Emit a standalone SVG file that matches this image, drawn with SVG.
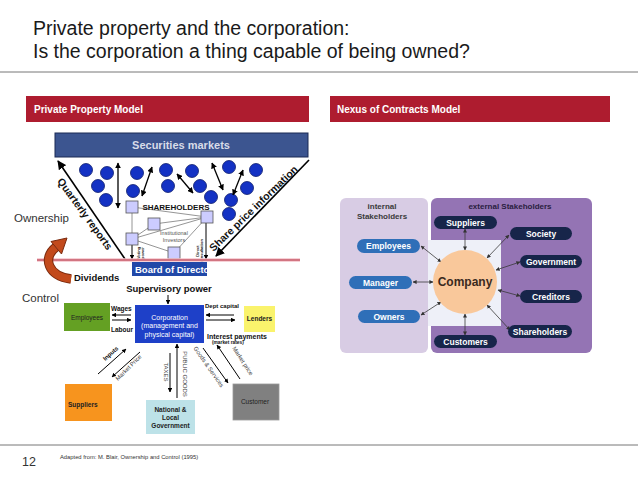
<svg xmlns="http://www.w3.org/2000/svg" width="638" height="479" viewBox="0 0 638 479">
<defs>
<marker id="a6" viewBox="0 0 10 10" refX="9" refY="5" markerWidth="6" markerHeight="6" markerUnits="userSpaceOnUse" orient="auto-start-reverse"><path d="M0,0L10,5L0,10z" fill="#000"/></marker>
<marker id="a9" viewBox="0 0 10 10" refX="9" refY="5" markerWidth="9" markerHeight="9" markerUnits="userSpaceOnUse" orient="auto-start-reverse"><path d="M0,0L10,5L0,10z" fill="#000"/></marker>
<marker id="a4" viewBox="0 0 10 10" refX="9" refY="5" markerWidth="4.5" markerHeight="4.5" markerUnits="userSpaceOnUse" orient="auto-start-reverse"><path d="M0,0L10,5L0,10z" fill="#000"/></marker>
<marker id="g4" viewBox="0 0 10 10" refX="9" refY="5" markerWidth="4" markerHeight="4" markerUnits="userSpaceOnUse" orient="auto-start-reverse"><path d="M0,0L10,5L0,10z" fill="#333"/></marker>
<clipPath id="bodClip"><rect x="132" y="262" width="75" height="14"/></clipPath>
</defs>
<style>
text{font-family:"Liberation Sans",Arial,sans-serif}
.title{font-size:19.5px;fill:#1a1a1a}
.bar{fill:#AE1C2F}
.barT{font-size:10px;font-weight:bold;fill:#fff}
.rule{stroke:#777;stroke-width:1}
.dot{fill:#1432C4;stroke:#0B1A6B;stroke-width:0.8}
.sq{fill:#CCCCFF;stroke:#555;stroke-width:0.8}
.gl{stroke:#7a7a7a;stroke-width:0.8;fill:none}
.ln{stroke:#000;stroke-width:1.3;fill:none}
.lnB{stroke:#000;stroke-width:1.6;fill:none}
.lnS{stroke:#000;stroke-width:1;fill:none}
.side{font-size:11.5px;fill:#333}
.bold{font-weight:bold;fill:#111}
.small{font-size:6.5px}
.lbl{font-size:6.5px;fill:#222}
.lblG{font-size:6px;fill:#444}
.pillI{fill:#2F6FB8}
.pillE{fill:#17254A}
.pillT{font-size:8.5px;font-weight:bold;fill:#fff;text-anchor:middle}
.rc{stroke:#3a3a3a;stroke-width:0.8;fill:none}
</style>

<!-- Header -->
<g id="header">
<text class="title" x="33" y="35">Private property and the corporation:</text>
<text class="title" x="33" y="58">Is the corporation a thing capable of being owned?</text>
<line class="rule" x1="0" y1="72" x2="638" y2="72"/>
<rect class="bar" x="26" y="96" width="283" height="26"/>
<text class="barT" x="34" y="113">Private Property Model</text>
<rect class="bar" x="330" y="96" width="280" height="26"/>
<text class="barT" x="337" y="113">Nexus of Contracts Model</text>
</g>

<!-- Left diagram: Private property model -->
<g id="securities-markets">
<rect x="55" y="133" width="253" height="24" fill="#3C5590" stroke="#1B2A55" stroke-width="1"/>
<text x="181" y="149" text-anchor="middle" font-size="11" font-weight="bold" fill="#D8DCE8">Securities markets</text>
</g>

<g id="shareholder-dots">
<circle class="dot" cx="86" cy="170" r="6.5"/>
<circle class="dot" cx="107" cy="173" r="6.5"/>
<circle class="dot" cx="98" cy="186" r="6.5"/>
<circle class="dot" cx="106" cy="200" r="6.5"/>
<circle class="dot" cx="137" cy="173" r="6.5"/>
<circle class="dot" cx="133" cy="191" r="6.5"/>
<circle class="dot" cx="166" cy="170" r="6.5"/>
<circle class="dot" cx="168" cy="186" r="6.5"/>
<circle class="dot" cx="192" cy="171" r="6.5"/>
<circle class="dot" cx="200" cy="186" r="6.5"/>
<circle class="dot" cx="211" cy="197" r="6.5"/>
<circle class="dot" cx="229" cy="167" r="6.5"/>
<circle class="dot" cx="256" cy="170" r="6.5"/>
<circle class="dot" cx="247" cy="188" r="6.5"/>
<circle class="dot" cx="231" cy="200" r="6.5"/>
<circle class="dot" cx="229" cy="214" r="6.5"/>
</g>

<g id="connectors">
<!-- trading double arrows -->
<line class="ln" x1="118" y1="163" x2="118" y2="208" marker-start="url(#a6)" marker-end="url(#a6)"/>
<line class="ln" x1="152" y1="167" x2="142" y2="196" marker-start="url(#a6)" marker-end="url(#a6)"/>
<line class="ln" x1="177" y1="174" x2="193" y2="193" marker-start="url(#a6)" marker-end="url(#a6)"/>
<line class="ln" x1="212" y1="163" x2="223" y2="190" marker-start="url(#a6)" marker-end="url(#a6)"/>
<line class="ln" x1="243" y1="170" x2="233" y2="195" marker-start="url(#a6)" marker-end="url(#a6)"/>
<!-- quarterly reports / share price -->
<line class="lnB" x1="125" y1="259" x2="58" y2="161" marker-end="url(#a9)"/>
<line class="lnB" x1="309" y1="160" x2="216" y2="256" marker-end="url(#a9)"/>
<!-- shareholder network -->
<line class="gl" x1="132" y1="207" x2="207" y2="217"/>
<line class="gl" x1="154" y1="224" x2="207" y2="217"/>
<line class="gl" x1="132" y1="239" x2="154" y2="224"/>
<line class="gl" x1="132" y1="239" x2="207" y2="217"/>
<line class="gl" x1="132" y1="239" x2="174" y2="253"/>
<line class="gl" x1="207" y1="217" x2="174" y2="253"/>
<line class="gl" x1="132" y1="207" x2="132" y2="239"/>
<line class="lnS" x1="132" y1="245" x2="132" y2="259" marker-end="url(#a4)"/>
<line class="lnS" x1="206" y1="223" x2="206" y2="259" marker-end="url(#a4)"/>
<!-- supervisory -->
<line class="lnS" x1="168" y1="295" x2="168" y2="304" marker-end="url(#a4)"/>
<!-- wages / labour -->
<line class="lnS" x1="131" y1="315" x2="112" y2="315" marker-end="url(#a4)"/>
<line class="lnS" x1="112" y1="320" x2="131" y2="320" marker-end="url(#a4)"/>
<!-- debt capital / interest -->
<line class="lnS" x1="234" y1="315" x2="206" y2="315" marker-end="url(#a4)"/>
<line class="lnS" x1="206" y1="320" x2="235" y2="320" marker-end="url(#a4)"/>
<!-- suppliers -->
<line class="lnS" x1="98" y1="374" x2="126" y2="349" marker-end="url(#a4)"/>
<line class="lnS" x1="140" y1="352" x2="112" y2="377" marker-end="url(#a4)"/>
<!-- government -->
<line class="lnS" x1="170" y1="353" x2="170" y2="392" marker-end="url(#a4)"/>
<line class="lnS" x1="177" y1="398" x2="177" y2="344" marker-end="url(#a4)"/>
<!-- customer -->
<line class="lnS" x1="203" y1="348" x2="228" y2="383" marker-end="url(#a4)"/>
<line class="lnS" x1="240" y1="379" x2="217" y2="345" marker-end="url(#a4)"/>
</g>

<g id="flow-labels">
<text transform="translate(82,216) rotate(54)" text-anchor="middle" font-size="10.5" class="bold">Quarterly reports</text>
<text transform="translate(256,211) rotate(-44)" text-anchor="middle" font-size="10.5" class="bold">Share price information</text>
<text transform="translate(140,253) rotate(-90)" text-anchor="middle" font-size="4" class="bold"><tspan x="0" dy="-0.5">Voting</tspan><tspan x="0" dy="4.2">power</tspan></text>
<text transform="translate(199,251) rotate(-90)" text-anchor="middle" font-size="4" class="bold"><tspan x="0" dy="-0.5">Direct</tspan><tspan x="0" dy="4.2">consultation</tspan></text>
<text x="111" y="311" font-size="6.5" class="bold">Wages</text>
<text x="111" y="332" font-size="6.5" class="bold">Labour</text>
<text x="205" y="308" font-size="6" class="bold">Dept capital</text>
<text x="207" y="339" font-size="7" class="bold">Interest payments</text>
<text x="212" y="344" font-size="4.8" class="bold">(market rates)</text>
<text transform="translate(112,355) rotate(-42)" text-anchor="middle" font-size="6" class="bold">Inputs</text>
<text transform="translate(130,369) rotate(-45)" text-anchor="middle" class="lblG">Market Price</text>
<text transform="translate(164,372) rotate(90)" text-anchor="middle" class="lblG">TAXES</text>
<text transform="translate(183,374) rotate(90)" text-anchor="middle" class="lblG">PUBLIC GOODS</text>
<text transform="translate(207,368) rotate(55)" text-anchor="middle" class="lblG">Goods &amp; Services</text>
<text transform="translate(241,362) rotate(57)" text-anchor="middle" class="lblG">Market price</text>
</g>

<g id="shareholders">
<rect class="sq" x="126" y="201" width="12" height="12"/>
<rect class="sq" x="148" y="218" width="12" height="12"/>
<rect class="sq" x="201" y="211" width="12" height="12"/>
<rect class="sq" x="126" y="233" width="12" height="12"/>
<rect class="sq" x="168" y="247" width="12" height="12"/>
<text x="176" y="210" text-anchor="middle" font-size="8" class="bold">SHAREHOLDERS</text>
<text x="174" y="235" text-anchor="middle" font-size="5.5" fill="#555">Institutional</text>
<text x="174" y="242" text-anchor="middle" font-size="5.5" fill="#555">Investors</text>
</g>

<g id="ownership-control">
<line x1="37" y1="260" x2="300" y2="260" stroke="#F4C2CA" stroke-width="3.5"/>
<line x1="37" y1="260" x2="300" y2="260" stroke="#B0283A" stroke-width="1.2"/>
<text class="side" x="14" y="222">Ownership</text>
<text class="side" x="22" y="302">Control</text>
<path d="M71,279 C48,276 42,258 56,247" fill="none" stroke="#7A2A0E" stroke-width="9.5"/>
<path d="M71,279 C48,276 42,258 56,247" fill="none" stroke="#C24A1C" stroke-width="7.5"/>
<path d="M67,238 L61.5,254 L51,241.5 Z" fill="#C24A1C" stroke="#7A2A0E" stroke-width="1" stroke-linejoin="round"/>
<text x="74" y="281" font-size="9.5" class="bold">Dividends</text>
</g>

<g id="board-of-director">
<rect x="132" y="262" width="75" height="14" fill="#2148A8"/>
<text x="135" y="273" font-size="9.5" font-weight="bold" fill="#fff" clip-path="url(#bodClip)">Board of Director</text>
<text x="169" y="292" text-anchor="middle" font-size="9.5" class="bold">Supervisory power</text>
</g>

<g id="corporation">
<rect x="135" y="305" width="69" height="38" fill="#1E40C8"/>
<text x="169.5" y="319.5" text-anchor="middle" font-size="7" fill="#fff">Corporation</text>
<text x="169.5" y="328" text-anchor="middle" font-size="7" fill="#fff">(management and</text>
<text x="169.5" y="336.5" text-anchor="middle" font-size="7" fill="#fff">physical capital)</text>
</g>

<g id="employees">
<rect x="64" y="303" width="46" height="28" fill="#64A023"/>
<text x="87" y="320" text-anchor="middle" class="lbl">Employees</text>
</g>

<g id="lenders">
<rect x="244" y="306" width="31" height="26" fill="#FAF36C"/>
<text x="259.5" y="321" text-anchor="middle" class="lbl" font-weight="bold">Lenders</text>
</g>

<g id="suppliers">
<rect x="65" y="384" width="47" height="37" fill="#F7941E"/>
<text x="68" y="407" class="lbl" font-weight="bold">Suppliers</text>
</g>

<g id="government">
<rect x="146" y="400" width="49" height="34" fill="#BDE2E8"/>
<text x="170.5" y="412" text-anchor="middle" class="lbl" font-weight="bold">National &amp;</text>
<text x="170.5" y="420" text-anchor="middle" class="lbl" font-weight="bold">Local</text>
<text x="170.5" y="428" text-anchor="middle" class="lbl" font-weight="bold">Government</text>
</g>

<g id="customer">
<rect x="233" y="384" width="46" height="36" fill="#808080" stroke="#9a9a9a" stroke-width="0.8"/>
<text x="255" y="404" text-anchor="middle" class="lbl">Customer</text>
</g>

<!-- Right diagram: Nexus of contracts -->
<g id="nexus-panels">
<rect x="340" y="198" width="88" height="155" rx="6" fill="#D8CCE4"/>
<rect x="431" y="198" width="161" height="155" rx="6" fill="#9474B4"/>
<rect x="428" y="240" width="73" height="86" fill="#EEF0F8"/>
<text x="382" y="209" text-anchor="middle" font-size="8" font-weight="bold" fill="#3a3a3a">internal</text>
<text x="382" y="219" text-anchor="middle" font-size="8" font-weight="bold" fill="#3a3a3a">Stakeholders</text>
<text x="510" y="209" text-anchor="middle" font-size="8" font-weight="bold" fill="#2a2040">external Stakeholders</text>
</g>

<g id="nexus-connectors">
<line class="rc" x1="421" y1="246" x2="441" y2="262" marker-start="url(#g4)" marker-end="url(#g4)"/>
<line class="rc" x1="413" y1="282" x2="433" y2="282" marker-start="url(#g4)" marker-end="url(#g4)"/>
<line class="rc" x1="421" y1="315" x2="441" y2="302" marker-start="url(#g4)" marker-end="url(#g4)"/>
<line class="rc" x1="465" y1="229" x2="465" y2="250" marker-start="url(#g4)" marker-end="url(#g4)"/>
<line class="rc" x1="509" y1="235" x2="487" y2="258" marker-start="url(#g4)" marker-end="url(#g4)"/>
<line class="rc" x1="520" y1="262" x2="496" y2="270" marker-start="url(#g4)" marker-end="url(#g4)"/>
<line class="rc" x1="520" y1="296" x2="498" y2="290" marker-start="url(#g4)" marker-end="url(#g4)"/>
<line class="rc" x1="510" y1="330" x2="487" y2="305" marker-start="url(#g4)" marker-end="url(#g4)"/>
<line class="rc" x1="465" y1="335" x2="465" y2="314" marker-start="url(#g4)" marker-end="url(#g4)"/>
</g>

<g id="company">
<circle cx="465" cy="282" r="32" fill="#F9C89B"/>
<text x="465" y="286" text-anchor="middle" font-size="12" font-weight="bold" fill="#3A2A1E">Company</text>
</g>

<g id="internal-employees"><rect class="pillI" x="357" y="239" width="63" height="14" rx="7"/><text class="pillT" x="388.5" y="249">Employees</text></g>
<g id="internal-manager"><rect class="pillI" x="349" y="276" width="63" height="13" rx="6.5"/><text class="pillT" x="380.5" y="285.5">Manager</text></g>
<g id="internal-owners"><rect class="pillI" x="358" y="310" width="62" height="13" rx="6.5"/><text class="pillT" x="389" y="319.5">Owners</text></g>
<g id="ext-suppliers"><rect class="pillE" x="434" y="216" width="63" height="13" rx="6.5"/><text class="pillT" x="465.5" y="225.5">Suppliers</text></g>
<g id="ext-society"><rect class="pillE" x="510" y="227" width="62" height="13" rx="6.5"/><text class="pillT" x="541" y="236.5">Society</text></g>
<g id="ext-government"><rect class="pillE" x="520" y="255" width="62" height="13" rx="6.5"/><text class="pillT" x="551" y="264.5">Government</text></g>
<g id="ext-creditors"><rect class="pillE" x="520" y="290" width="62" height="13" rx="6.5"/><text class="pillT" x="551" y="299.5">Creditors</text></g>
<g id="ext-shareholders"><rect class="pillE" x="508" y="325" width="64" height="13" rx="6.5"/><text class="pillT" x="540" y="334.5">Shareholders</text></g>
<g id="ext-customers"><rect class="pillE" x="434" y="335" width="63" height="13" rx="6.5"/><text class="pillT" x="465.5" y="344.5">Customers</text></g>

<!-- Footer -->
<g id="footer">
<line class="rule" x1="0" y1="445" x2="638" y2="445"/>
<text x="22" y="466" font-size="12.5" fill="#333">12</text>
<text x="60" y="459" font-size="5.8" fill="#333">Adapted from: M. Blair, Ownership and Control (1995)</text>
</g>
</svg>
